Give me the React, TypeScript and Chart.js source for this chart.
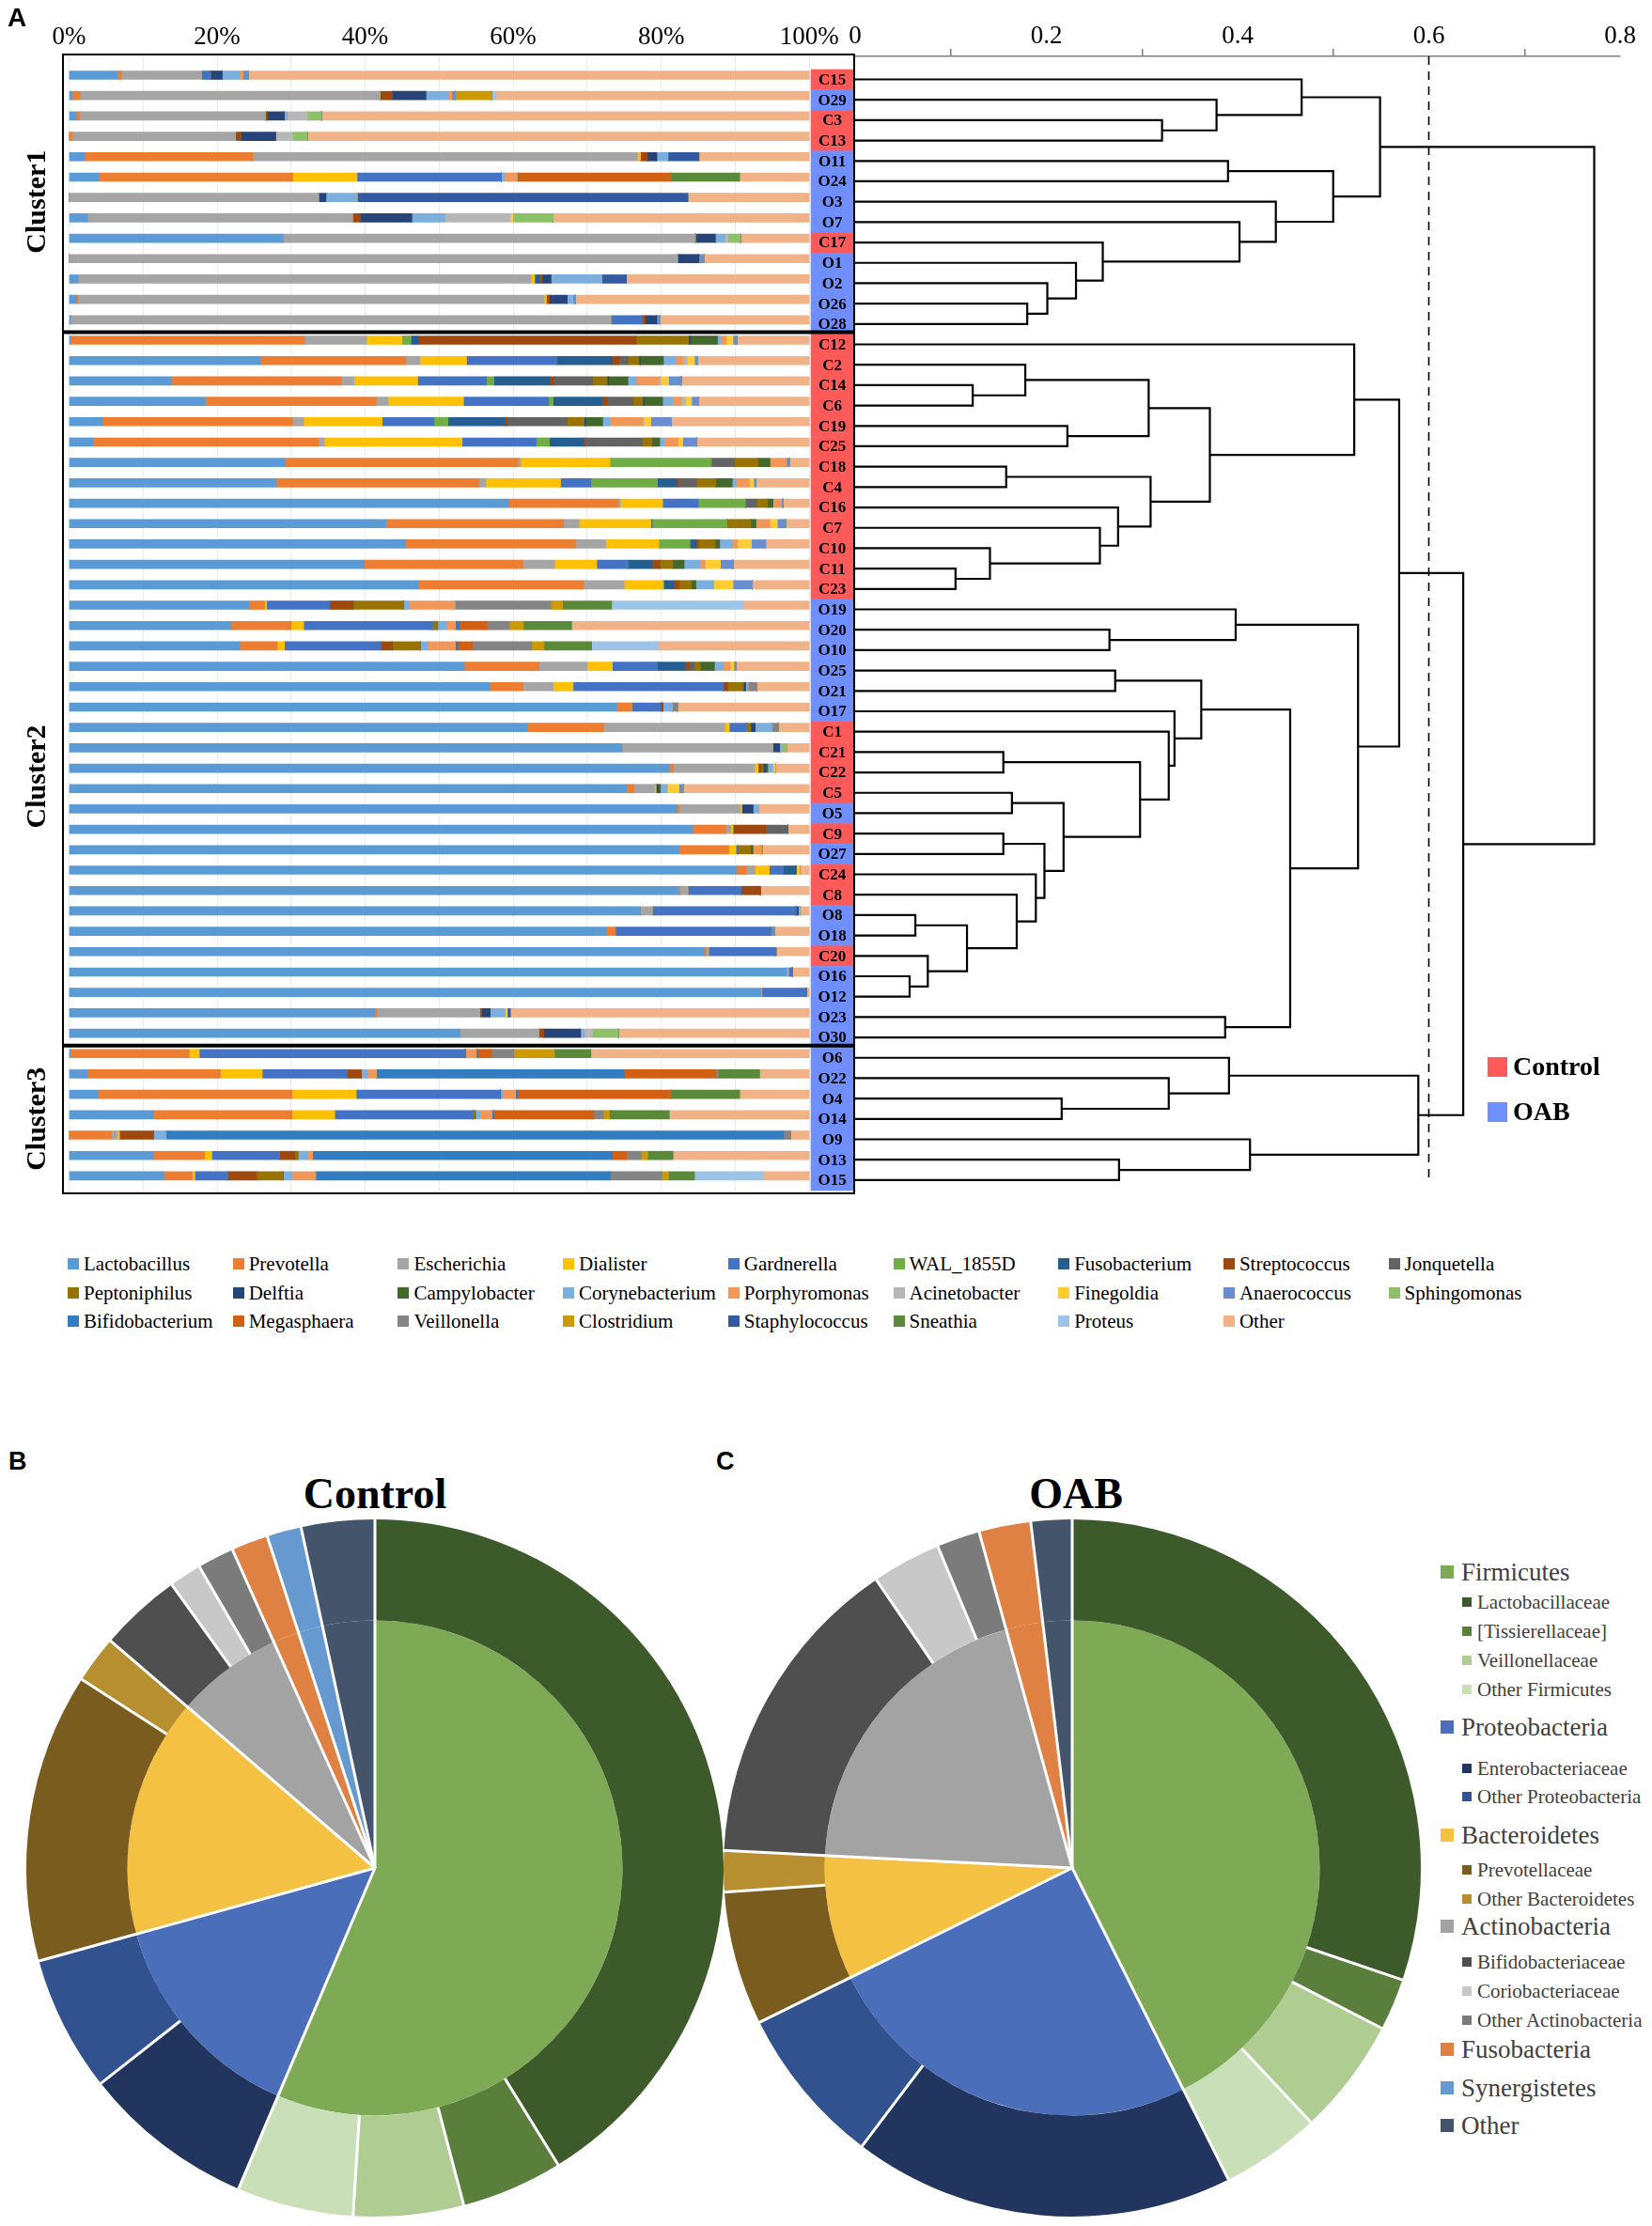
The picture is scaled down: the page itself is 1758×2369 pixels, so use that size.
import React, { useEffect, useRef } from 'react';
import { Chart, registerables } from 'chart.js';

Chart.register(...registerables);

const SERIF = '"Liberation Serif", "Times New Roman", serif';
const SANS = '"Liberation Sans", Arial, sans-serif';

// ---------------- Panel A : samples, clusters ----------------
const SAMPLES = [
  'C15', 'O29', 'C3', 'C13', 'O11', 'O24', 'O3', 'O7', 'C17', 'O1', 'O2', 'O26', 'O28',
  'C12', 'C2', 'C14', 'C6', 'C19', 'C25', 'C18', 'C4', 'C16', 'C7', 'C10', 'C11', 'C23',
  'O19', 'O20', 'O10', 'O25', 'O21', 'O17', 'C1', 'C21', 'C22', 'C5', 'O5', 'C9', 'O27', 'C24', 'C8', 'O8', 'O18', 'C20', 'O16', 'O12', 'O23', 'O30',
  'O6', 'O22', 'O4', 'O14', 'O9', 'O13', 'O15',
];
const CLUSTER_NAMES = ['Cluster1', 'Cluster2', 'Cluster3'];
const CLUSTER_SIZES = [13, 35, 7];

const GENERA = [
  'Lactobacillus', 'Prevotella', 'Escherichia', 'Dialister', 'Gardnerella', 'WAL_1855D', 'Fusobacterium', 'Streptococcus', 'Jonquetella',
  'Peptoniphilus', 'Delftia', 'Campylobacter', 'Corynebacterium', 'Porphyromonas', 'Acinetobacter', 'Finegoldia', 'Anaerococcus', 'Sphingomonas',
  'Bifidobacterium', 'Megasphaera', 'Veillonella', 'Clostridium', 'Staphylococcus', 'Sneathia', 'Proteus', 'Other',
];
const GENUS_COLORS = [
  '#5B9BD5', '#ED7D31', '#A5A5A5', '#FFC000', '#4472C4', '#70AD47', '#255E91', '#9E480E', '#636363',
  '#997300', '#264478', '#43682B', '#7CAFDD', '#F1975A', '#B7B7B7', '#FFCD33', '#698ED0', '#8CC168',
  '#327DC2', '#D26012', '#848484', '#CC9A00', '#335AA1', '#5A8A39', '#9DC3E6', '#F1B287',
];

// relative abundance (%) per genus, rows in SAMPLES order
const LACTOBACILLUS = [
  6.6, 0.4, 1.0, 0, 2.1, 4.0, 0, 2.5, 28.9, 0, 1.2, 1.0, 0.2,
  0.2, 25.8, 13.8, 18.4, 4.5, 3.3, 29.1, 28.0, 59.4, 42.8, 45.4, 39.9, 47.2,
  24.3, 21.9, 23.1, 53.4, 56.8, 74.0, 61.9, 74.7, 81.1, 75.3, 82.1, 84.3, 82.4, 90.2, 82.4, 77.2, 72.6, 85.8, 96.9, 93.4, 41.3, 52.8,
  0.2, 2.5, 3.9, 11.4, 0, 11.4, 12.8,
];
const PREVOTELLA = [
  0.5, 1.1, 0.4, 0.4, 22.7, 26.2, 0, 0, 0, 0, 0, 0.2, 0,
  31.6, 19.7, 23.0, 23.1, 25.7, 30.4, 31.6, 27.4, 14.8, 24.0, 23.0, 21.4, 22.3,
  2.1, 8.1, 5.0, 10.1, 4.5, 2.0, 10.3, 0, 0.5, 1.0, 0.3, 4.4, 6.7, 1.3, 0.2, 0, 1.2, 0.3, 0, 0, 0.3, 0,
  16.0, 17.9, 26.2, 18.7, 5.7, 6.9, 3.8,
];
const ESCHERICHIA = [
  10.8, 40.5, 25.1, 22.1, 52.0, 0, 33.7, 35.8, 55.7, 82.2, 61.2, 63.0, 73.0,
  8.4, 1.9, 1.7, 1.6, 1.5, 0.8, 0.3, 0.9, 0.3, 2.1, 4.1, 4.3, 5.5,
  0, 0, 0, 6.5, 4.1, 0, 16.4, 20.4, 11.0, 2.8, 8.3, 0.7, 0, 1.2, 1.0, 1.6, 0, 0.3, 0.3, 0.2, 13.9, 10.7,
  0, 0, 0, 0, 0.8, 0, 0,
];
const DIALISTER = [
  0, 0, 0, 0, 0.4, 8.7, 0, 0, 0, 0, 0.5, 0.3, 0,
  4.8, 6.3, 8.6, 10.2, 10.6, 18.6, 12.1, 10.1, 5.7, 9.7, 7.2, 5.7, 5.3,
  0.3, 1.7, 1.0, 3.4, 2.7, 0, 0.6, 0, 0.5, 0.2, 0.2, 0.3, 1.0, 1.9, 0, 0, 0, 0, 0, 0, 0, 0,
  1.4, 5.7, 8.7, 5.8, 0.3, 1.0, 0.4,
];
const GARDNERELLA = [
  1.2, 0, 0, 0, 0, 19.5, 0, 0, 0, 0, 0, 0, 4.2,
  0, 12.2, 9.3, 11.5, 7.0, 10.0, 0, 4.1, 4.8, 0.2, 0, 4.2, 0,
  8.5, 17.4, 13.0, 6.1, 20.3, 3.9, 2.3, 0, 0, 0, 0, 0, 0.3, 1.9, 7.2, 19.4, 21.0, 9.1, 0.5, 6.0, 0, 0,
  35.9, 11.5, 19.5, 18.7, 0, 9.1, 4.4,
];
const WAL_1855D = [
  0, 0, 0, 0, 0, 0, 0, 0, 0, 0, 0, 0, 0,
  1.2, 0, 1.0, 0.6, 1.9, 1.8, 13.7, 9.0, 6.4, 10.1, 4.2, 0, 0,
  0, 0, 0, 0, 0, 0, 0, 0, 0, 0, 0, 0, 0, 0, 0, 0, 0, 0, 0, 0, 0, 0,
  0, 0, 0, 0, 0, 0, 0,
];
const FUSOBACTERIUM = [
  0, 0, 0, 0, 0, 0, 0, 0, 0, 0, 0.7, 0, 0,
  1.0, 7.5, 7.6, 6.6, 7.7, 4.6, 0, 2.6, 0, 0, 0.8, 3.3, 1.4,
  0, 0, 0, 3.7, 0, 0, 0, 0, 0, 0, 0, 0, 0, 1.7, 0, 0, 0, 0, 0, 0, 0, 0,
  0, 0, 0, 0, 0, 0, 0,
];
const STREPTOCOCCUS = [
  0, 1.7, 0.3, 0.7, 0.9, 0, 0, 1.0, 0, 0, 0.3, 0.4, 0.4,
  29.4, 0.9, 0.5, 0.7, 0.3, 0.2, 0, 0.3, 0, 0, 0.3, 1.0, 0.7,
  3.2, 0, 1.6, 0.6, 0.6, 0.3, 0, 0, 0.4, 0, 0, 4.4, 0, 0, 2.6, 0, 0, 0, 0, 0, 0.2, 0.6,
  0, 1.9, 0, 0, 4.6, 2.1, 3.9,
];
const JONQUETELLA = [
  0, 0, 0, 0, 0, 0, 0, 0, 0, 0, 0, 0, 0,
  0, 1.2, 5.2, 3.5, 8.1, 7.7, 3.1, 2.4, 1.5, 0, 0, 0, 0,
  0, 0, 0, 0.7, 0, 0, 0, 0, 0, 0, 0, 3.0, 0, 0, 0, 0, 0, 0, 0, 0, 0, 0,
  0, 0, 0, 0, 0, 0, 0,
];
const PEPTONIPHILUS = [
  0, 0, 0, 0, 0, 0, 0, 0, 0, 0, 0, 0, 0,
  7.1, 1.5, 2.0, 1.3, 2.3, 1.4, 3.2, 2.6, 1.5, 3.2, 2.3, 1.8, 1.7,
  6.8, 0.7, 3.8, 0.8, 2.1, 0, 0.6, 0, 0.3, 0, 0, 0, 1.7, 0, 0, 0, 0, 0, 0, 0, 0, 0,
  0, 0, 0, 0.3, 0, 0.4, 3.6,
];
const DELFTIA = [
  1.6, 4.5, 2.3, 4.7, 1.3, 0, 1.0, 7.0, 2.7, 2.9, 1.2, 2.4, 1.6,
  0.3, 0.2, 0.2, 0.2, 0.2, 0, 0, 0, 0, 0, 0, 0, 0,
  0, 0, 0, 0, 0.3, 0, 0.6, 0.9, 0.3, 0.3, 1.5, 0, 0, 0, 0, 0.3, 0, 0, 0, 0, 1.2, 5.0,
  0, 0, 0, 0, 0, 0, 0,
];
const CAMPYLOBACTER = [
  0, 0, 0, 0, 0, 0, 0, 0, 0, 0, 0, 0, 0,
  3.6, 3.1, 2.6, 2.5, 2.3, 1.0, 1.6, 2.2, 0.7, 0.7, 0.6, 1.5, 0.6,
  0, 0, 0, 1.9, 0, 0, 0, 0, 0.3, 0.3, 0, 0, 0.3, 0, 0, 0, 0, 0, 0, 0, 0, 0,
  0, 0, 0, 0, 0, 0, 0,
];
const CORYNEBACTERIUM = [
  2.4, 3.1, 0.4, 0, 1.5, 0.4, 4.2, 4.5, 1.3, 0, 6.9, 0.7, 0,
  0.4, 1.7, 1.2, 1.4, 1.0, 0.6, 0, 0.5, 0, 0, 1.7, 2.1, 2.4,
  0.8, 1.2, 1.0, 1.2, 0.3, 1.3, 2.2, 0.3, 0.7, 0.9, 0.8, 0, 0, 0, 0, 0.3, 0, 0, 0, 0, 2.0, 0.5,
  0, 0.9, 0.3, 0.6, 1.7, 1.3, 1.2,
];
const PORPHYROMONAS = [
  0.4, 0.4, 0, 0, 0, 1.7, 0, 0, 0, 0, 0, 0, 0,
  0.8, 1.0, 3.0, 1.2, 4.4, 1.9, 2.2, 1.8, 1.1, 1.9, 0.7, 0.7, 0,
  6.1, 1.2, 3.7, 0.9, 0, 0, 0, 0, 0, 0, 0, 0, 1.0, 0, 0, 0, 0, 0, 0, 0, 0, 0,
  1.5, 1.1, 1.7, 1.6, 0, 0.7, 3.2,
];
const ACINETOBACTER = [
  0, 0, 2.7, 2.3, 0, 0, 0, 8.8, 0.4, 0, 0, 0, 0,
  0, 0.5, 0.3, 0.5, 0.2, 0, 0, 0, 0, 0, 0, 0, 0,
  0, 0, 0, 0, 0, 0, 0, 0, 0, 0, 0, 0, 0, 0, 0, 0, 0, 0, 0, 0, 0, 1.1,
  0, 0, 0, 0, 0, 0, 0,
];
const FINEGOLDIA = [
  0, 0, 0, 0, 0, 0, 0, 0.4, 0, 0, 0, 0, 0,
  0.9, 1.0, 1.0, 0.8, 0.9, 0.6, 0, 0.6, 0, 1.0, 1.9, 2.1, 2.6,
  0, 0, 0, 0.5, 0, 0, 0, 0, 0.3, 1.6, 0, 0, 0, 0.5, 0, 0, 0, 0, 0, 0, 0.3, 0,
  0, 0, 0, 0, 0, 0, 0,
];
const ANAEROCOCCUS = [
  0.7, 0.5, 0, 0, 0, 0, 0, 0, 0, 0.7, 0, 0.4, 0.4,
  0.5, 0.4, 1.7, 0.9, 2.8, 1.9, 0.4, 0.3, 0.3, 1.1, 1.9, 1.7, 2.6,
  0, 0, 0, 0.3, 0, 0, 0, 0, 0, 0.6, 0, 0, 0, 0, 0, 0, 0.5, 0, 0, 0, 0, 0,
  0, 0, 0, 0, 0, 0, 0,
];
const SPHINGOMONAS = [
  0, 0, 1.9, 2.0, 0, 0, 0, 5.4, 1.7, 0, 0, 0, 0,
  0, 0, 0, 0, 0, 0, 0, 0, 0, 0, 0, 0, 0,
  0, 0, 0, 0, 0, 0, 0, 0.6, 0, 0, 0, 0, 0, 0, 0, 0, 0, 0, 0, 0, 0, 3.5,
  0, 0, 0, 0, 0, 0, 0,
];
const BIFIDOBACTERIUM = [
  0, 0, 0, 0, 0, 0.2, 0, 0, 0, 0, 0, 0, 0,
  0, 0, 0, 0, 0, 0, 0, 0, 0, 0, 0, 0, 0,
  0, 0.6, 0.4, 0, 0, 0, 0, 0, 0, 0, 0, 0, 0, 0, 0, 0, 0, 0, 0, 0, 0, 0,
  0.2, 33.5, 0.3, 0.3, 83.4, 40.5, 39.8,
];
const MEGASPHAERA = [
  0, 0, 0, 0, 0, 20.6, 0, 0, 0, 0, 0, 0, 0,
  0, 0, 0, 0, 0, 0, 0, 0, 0, 0, 0, 0, 0,
  0, 3.7, 1.9, 0, 0, 0, 0, 0, 0, 0, 0, 0, 0, 0, 0, 0, 0, 0, 0, 0, 0, 0,
  1.9, 12.4, 20.7, 13.5, 0, 1.9, 0,
];
const VEILLONELLA = [
  0, 0, 0, 0, 0, 0, 0, 0, 0, 0, 0, 0, 0,
  0, 0, 0, 0, 0, 0, 0, 0, 0, 0, 0, 0, 0,
  13.0, 3.0, 8.0, 0, 1.2, 0.7, 0.9, 0, 0, 0, 0, 0, 0, 0, 0, 0, 0, 0, 0, 0, 0, 0,
  3.0, 0.3, 0, 1.3, 1.0, 2.0, 7.0,
];
const CLOSTRIDIUM = [
  0, 4.9, 0, 0, 0, 0, 0, 0, 0, 0, 0, 0, 0,
  0, 0, 0, 0, 0, 0, 0, 0, 0, 0, 0, 0, 0,
  1.6, 1.9, 1.7, 0, 0, 0, 0, 0, 0, 0, 0, 0, 0.3, 0, 0, 0, 0, 0, 0, 0, 0, 0,
  5.5, 0, 0, 0.8, 0, 0.9, 0.9,
];
const STAPHYLOCOCCUS = [
  0, 0, 0, 0, 4.2, 0, 44.7, 0, 0, 0, 3.3, 0, 0,
  0, 0, 0, 0, 0, 0, 0, 0, 0, 0, 0, 0, 0,
  0, 0, 0, 0, 0, 0, 0, 0, 0, 0, 0, 0, 0, 0, 0, 0, 0, 0, 0, 0, 0.4, 0,
  0, 0, 0, 0, 0, 0, 0,
];
const SNEATHIA = [
  0, 0, 0, 0, 0, 9.3, 0, 0, 0, 0, 0, 0, 0,
  0, 0, 0, 0, 0, 0, 0, 0, 0, 0, 0, 0, 0,
  6.6, 6.5, 6.4, 0, 0, 0, 0, 0, 0, 0, 0, 0, 0, 0, 0, 0, 0, 0, 0, 0, 0, 0,
  4.9, 5.6, 9.3, 8.1, 0, 3.4, 3.5,
];
const PROTEUS = [
  0, 0.6, 0, 0, 0, 0, 0, 0, 0, 0, 0, 0, 0,
  0, 0, 0, 0, 0, 0, 0, 0, 0, 0, 0, 0, 0,
  17.8, 0, 9.0, 0, 0, 0, 0, 0, 0, 0, 0, 0, 0, 0, 0, 0, 0, 0, 0, 0, 0, 0,
  0, 0, 0, 0, 0, 0, 9.3,
];
const OTHER_GENERA = [
  75.8, 42.3, 65.9, 67.8, 14.9, 9.4, 16.4, 34.6, 9.3, 14.2, 24.7, 31.6, 20.2,
  9.8, 15.1, 17.3, 15.0, 18.6, 15.2, 2.7, 7.2, 3.5, 3.2, 5.9, 10.3, 7.7,
  8.9, 32.1, 20.4, 9.9, 7.1, 17.8, 4.2, 3.1, 4.6, 17.0, 6.8, 2.9, 6.3, 1.3, 6.6, 1.2, 4.7, 4.5, 2.3, 0.4, 40.4, 25.8,
  29.5, 6.7, 9.4, 18.9, 2.5, 18.4, 6.2,
];
const SERIES = [
  LACTOBACILLUS, PREVOTELLA, ESCHERICHIA, DIALISTER, GARDNERELLA, WAL_1855D, FUSOBACTERIUM, STREPTOCOCCUS, JONQUETELLA,
  PEPTONIPHILUS, DELFTIA, CAMPYLOBACTER, CORYNEBACTERIUM, PORPHYROMONAS, ACINETOBACTER, FINEGOLDIA, ANAEROCOCCUS, SPHINGOMONAS,
  BIFIDOBACTERIUM, MEGASPHAERA, VEILLONELLA, CLOSTRIDIUM, STAPHYLOCOCCUS, SNEATHIA, PROTEUS, OTHER_GENERA,
];

// hierarchical clustering: [child A, child B, merge distance]; '#k' refers to merge k
const MERGES: [string, string, number][] = [
  ['C3', 'C13', 0.321], ['O29', '#0', 0.378], ['C15', '#1', 0.467], ['O11', 'O24', 0.390],
  ['O26', 'O28', 0.180], ['O2', '#4', 0.201], ['O1', '#5', 0.231], ['C17', '#6', 0.259],
  ['O7', '#7', 0.402], ['O3', '#8', 0.440], ['#3', '#9', 0.500], ['#2', '#10', 0.549],
  ['C14', 'C6', 0.123], ['C2', '#12', 0.178], ['C19', 'C25', 0.222], ['#13', '#14', 0.307],
  ['C18', 'C4', 0.158], ['C11', 'C23', 0.105], ['C10', '#17', 0.141], ['C7', '#18', 0.256],
  ['C16', '#19', 0.275], ['#16', '#20', 0.309], ['#15', '#21', 0.371], ['C12', '#22', 0.522],
  ['O20', 'O10', 0.266], ['O19', '#24', 0.398], ['O25', 'O21', 0.272], ['O16', 'O12', 0.057],
  ['C20', '#27', 0.076], ['O8', 'O18', 0.063], ['#29', '#28', 0.117], ['C8', '#30', 0.169],
  ['C24', '#31', 0.189], ['C9', 'O27', 0.155], ['#33', '#32', 0.198], ['C5', 'O5', 0.164],
  ['#35', '#34', 0.218], ['C21', 'C22', 0.155], ['#37', '#36', 0.298], ['C1', '#38', 0.328],
  ['O17', '#39', 0.334], ['#26', '#40', 0.362], ['O23', 'O30', 0.387], ['#41', '#42', 0.455],
  ['#25', '#43', 0.526], ['#23', '#44', 0.569],
  ['O4', 'O14', 0.216], ['O22', '#46', 0.328], ['O6', '#47', 0.391], ['O13', 'O15', 0.276],
  ['O9', '#49', 0.413], ['#48', '#50', 0.589], ['#45', '#51', 0.636], ['#11', '#52', 0.773],
];
const CUT_DISTANCE = 0.6;
const PCT_TICKS = [0, 10, 20, 30, 40, 50, 60, 70, 80, 90, 100];
const DIST_TICKS = [0, 0.2, 0.4, 0.6, 0.8];

// ---------------- Panels B / C ----------------
const PHYLA = ['Firmicutes', 'Proteobacteria', 'Bacteroidetes', 'Actinobacteria', 'Fusobacteria', 'Synergistetes', 'Other'];
const PHYLA_COLORS = ['#7EAA55', '#4A6EBA', '#F4C142', '#A3A3A3', '#DE8143', '#6699D0', '#44546A'];
const FAMILIES = [
  'Lactobacillaceae', '[Tissierellaceae]', 'Veillonellaceae', 'Other Firmicutes',
  'Enterobacteriaceae', 'Other Proteobacteria', 'Prevotellaceae', 'Other Bacteroidetes',
  'Bifidobacteriaceae', 'Coriobacteriaceae', 'Other Actinobacteria', 'Fusobacteria', 'Synergistetes', 'Other',
];
const FAMILY_PHYLUM = [0, 0, 0, 0, 1, 1, 2, 2, 3, 3, 3, 4, 5, 6];
const FAMILY_COLORS = [
  '#3D5A2A', '#5A7E3C', '#AFCC92', '#C9DFB8', '#22355F', '#32518F', '#7A5D1E', '#B78F30',
  '#4F4F4F', '#C8C8C8', '#7B7B7B', '#DE8143', '#6699D0', '#44546A',
];
const CONTROL_PHYLA = [56.4, 14.3, 15.6, 7.0, 1.7, 1.6, 3.4];
const CONTROL_FAMILIES = [41.2, 4.7, 5.1, 5.4, 8.0, 6.3, 13.4, 2.2, 3.8, 1.5, 1.7, 1.7, 1.6, 3.4];
const OAB_PHYLA = [42.6, 25.1, 8.1, 19.9, 2.4, 0, 1.9];
const OAB_FAMILIES = [30.2, 2.4, 5.4, 4.6, 17.7, 7.4, 6.2, 1.9, 14.7, 3.2, 2.0, 2.4, 0, 1.9];

// ---------------- layout (pixels) ----------------
const CONTROL_COLOR = '#FF5A5A';
const OAB_COLOR = '#6F8FFF';
const Y_MIN = -1.13;
const Y_MAX = 54.65;
const PCT_MIN = -0.95;
const PCT_MAX = 106.2;
const LABEL_FROM = 100.2;
const LABEL_TO = 106.0;
const CLUSTER_LABEL_ROW = [6, 34.2, 51];
const PIE_LEGEND_Y = [1673, 1705, 1736, 1767, 1798, 1838, 1882, 1912, 1953, 1990, 2021, 2050, 2088, 2119, 2150, 2181, 2222, 2262];

function dendrogramSegments() {
  const pos: Record<string, { y: number; h: number }> = {};
  SAMPLES.forEach((s, i) => { pos[s] = { y: i, h: 0 }; });
  const segs: { x: number; y: number }[][] = [];
  MERGES.forEach(([a, b, h], k) => {
    const A = pos[a];
    const B = pos[b];
    segs.push([{ x: A.h, y: A.y }, { x: h, y: A.y }, { x: h, y: B.y }, { x: B.h, y: B.y }]);
    pos['#' + k] = { y: (A.y + B.y) / 2, h };
  });
  return segs;
}

const panelAPlugin = {
  id: 'panelADecor',
  afterDatasetsDraw(chart: any) {
    const { ctx, chartArea } = chart;
    const x = chart.scales.x;
    const y = chart.scales.y;
    const rowH = Math.abs(y.getPixelForValue(1) - y.getPixelForValue(0));
    ctx.save();
    const x0 = x.getPixelForValue(LABEL_FROM);
    const x1 = x.getPixelForValue(LABEL_TO);
    SAMPLES.forEach((s, i) => {
      const cy = y.getPixelForValue(i);
      ctx.fillStyle = s.startsWith('C') ? CONTROL_COLOR : OAB_COLOR;
      ctx.fillRect(x0, cy - rowH / 2, x1 - x0, rowH + 0.6);
    });
    ctx.fillStyle = '#000';
    ctx.font = `bold 17px ${SERIF}`;
    ctx.textAlign = 'center';
    ctx.textBaseline = 'middle';
    SAMPLES.forEach((s, i) => {
      ctx.fillText(s, (x0 + x1) / 2, y.getPixelForValue(i) + 1);
    });
    // frame
    ctx.strokeStyle = '#000';
    ctx.lineWidth = 2;
    ctx.strokeRect(x.left + 1, chartArea.top - 2, x.right - x.left - 2, chartArea.bottom - chartArea.top + 2);
    // cluster separators
    ctx.lineWidth = 4;
    let acc = 0;
    CLUSTER_SIZES.slice(0, -1).forEach((n) => {
      acc += n;
      const yy = y.getPixelForValue(acc - 0.6);
      ctx.beginPath();
      ctx.moveTo(x.left, yy);
      ctx.lineTo(x.right, yy);
      ctx.stroke();
    });
    // cluster labels
    ctx.font = `bold 30px ${SERIF}`;
    CLUSTER_NAMES.forEach((name, c) => {
      ctx.save();
      ctx.translate(40, y.getPixelForValue(CLUSTER_LABEL_ROW[c]));
      ctx.rotate(-Math.PI / 2);
      ctx.fillText(name, 0, 0);
      ctx.restore();
    });
    ctx.restore();
  },
};

function panelAConfig(): any {
  const bars = GENERA.map((g, k) => ({
    type: 'bar',
    label: g,
    indexAxis: 'y',
    xAxisID: 'x',
    yAxisID: 'y',
    data: SERIES[k].map((v, i) => ({ x: v, y: i })),
    backgroundColor: GENUS_COLORS[k],
    borderWidth: 0,
    barThickness: 9,
  }));
  const tree = dendrogramSegments().map((seg) => ({
    type: 'line',
    data: seg,
    xAxisID: 'x2',
    yAxisID: 'y2',
    borderColor: '#000',
    borderWidth: 2.2,
    pointRadius: 0,
    fill: false,
    tension: 0,
  }));
  const cut = {
    type: 'line',
    data: [{ x: CUT_DISTANCE, y: Y_MIN }, { x: CUT_DISTANCE, y: SAMPLES.length - 1 }],
    xAxisID: 'x2',
    yAxisID: 'y2',
    borderColor: '#000',
    borderWidth: 1.6,
    borderDash: [9, 7],
    pointRadius: 0,
    fill: false,
  };
  const tickFont = { family: SERIF, size: 27 };
  return {
    type: 'bar',
    data: { datasets: [...bars, ...tree, cut] },
    options: {
      responsive: false,
      animation: false,
      events: [],
      layout: { padding: { left: 66, right: 34, top: 0, bottom: 30 } },
      plugins: { legend: { display: false }, tooltip: { enabled: false } },
      scales: {
        x: {
          type: 'linear', position: 'top', stack: 'top', stackWeight: 844, weight: 2, stacked: true,
          min: PCT_MIN, max: PCT_MAX, offset: false,
          afterBuildTicks: (s: any) => { s.ticks = PCT_TICKS.map((v) => ({ value: v })); },
          afterFit: (s: any) => { s.height = 60; },
          grid: { color: '#ebebeb', lineWidth: 1, drawTicks: false, offset: false },
          border: { display: false },
          ticks: {
            callback: (v: number) => (v % 20 === 0 ? v + '%' : ''),
            font: tickFont, color: '#000', padding: 4, maxRotation: 0, autoSkip: false,
          },
        },
        x2: {
          type: 'linear', position: 'top', stack: 'top', stackWeight: 814, weight: 1,
          min: 0, max: 0.8, offset: false,
          afterBuildTicks: (s: any) => { s.ticks = DIST_TICKS.map((v) => ({ value: v })); },
          afterFit: (s: any) => { s.height = 60; },
          grid: { drawOnChartArea: false, drawTicks: true, tickLength: 8, color: '#7f7f7f', lineWidth: 1.5 },
          border: { display: true, color: '#7f7f7f', width: 1.5 },
          ticks: { callback: (v: number) => String(v), font: tickFont, color: '#000', padding: -3, maxRotation: 0, autoSkip: false },
        },
        y: { type: 'linear', min: Y_MIN, max: Y_MAX, reverse: true, stacked: true, offset: false, grid: { offset: false }, display: false },
        y2: { type: 'linear', min: Y_MIN, max: Y_MAX, reverse: true, offset: false, display: false },
      },
    },
    plugins: [panelAPlugin],
  };
}

// white separators along the radial edges of every arc (no circular outline)
const pieSeparators = {
  id: 'pieSeparators',
  afterDatasetsDraw(chart: any) {
    const { ctx } = chart;
    ctx.save();
    ctx.strokeStyle = '#ffffff';
    ctx.lineWidth = 3;
    ctx.lineCap = 'butt';
    chart.data.datasets.forEach((_: any, di: number) => {
      const meta = chart.getDatasetMeta(di);
      meta.data.forEach((arc: any) => {
        const p = arc.getProps(['x', 'y', 'startAngle', 'endAngle', 'innerRadius', 'outerRadius']);
        if (!(p.endAngle - p.startAngle > 0)) return;
        const c = Math.cos(p.startAngle);
        const s = Math.sin(p.startAngle);
        ctx.beginPath();
        ctx.moveTo(p.x + c * p.innerRadius, p.y + s * p.innerRadius);
        ctx.lineTo(p.x + c * (p.outerRadius + 1), p.y + s * (p.outerRadius + 1));
        ctx.stroke();
      });
    });
    ctx.restore();
  },
};

function pieConfig(phyla: number[], families: number[]): any {
  return {
    type: 'pie',
    data: {
      labels: FAMILIES,
      datasets: [
        { data: families, backgroundColor: FAMILY_COLORS, borderWidth: 0, weight: 29 },
        { data: phyla, backgroundColor: PHYLA_COLORS, borderWidth: 0, weight: 71 },
      ],
    },
    options: {
      responsive: false,
      animation: false,
      events: [],
      layout: { padding: 9 },
      plugins: { legend: { display: false }, tooltip: { enabled: false } },
    },
    plugins: [pieSeparators],
  };
}

function ChartCanvas({ make, left, top, width, height }: { make: () => any; left: number; top: number; width: number; height: number }) {
  const ref = useRef<HTMLCanvasElement>(null);
  useEffect(() => {
    const chart = new Chart(ref.current as HTMLCanvasElement, make());
    return () => chart.destroy();
  }, []);
  return (
    <canvas
      ref={ref}
      width={width}
      height={height}
      style={{ position: 'absolute', left, top, width, height }}
    />
  );
}

const abs = (left: number, top: number, extra: any = {}) => ({ position: 'absolute' as const, left, top, ...extra });

export default function App() {
  // pie legend entries: each phylum, followed by its families when it has several
  const pieLegend: { label: string; color: string; level: number }[] = [];
  PHYLA.forEach((p, pi) => {
    pieLegend.push({ label: p, color: PHYLA_COLORS[pi], level: 0 });
    const fams = FAMILIES.map((f, fi) => fi).filter((fi) => FAMILY_PHYLUM[fi] === pi);
    if (fams.length > 1) fams.forEach((fi) => pieLegend.push({ label: FAMILIES[fi], color: FAMILY_COLORS[fi], level: 1 }));
  });

  return (
    <div style={{ position: 'absolute', left: 0, top: 0, width: 1758, height: 2369, background: '#fff', fontFamily: SERIF, overflow: 'hidden' }}>
      <ChartCanvas make={panelAConfig} left={0} top={0} width={1758} height={1300} />

      <div style={abs(8, 5, { fontFamily: SANS, fontWeight: 700, fontSize: 28, lineHeight: '28px' })}>A</div>
      <div style={abs(9, 1542, { fontFamily: SANS, fontWeight: 700, fontSize: 27, lineHeight: '27px' })}>B</div>
      <div style={abs(762, 1542, { fontFamily: SANS, fontWeight: 700, fontSize: 27, lineHeight: '27px' })}>C</div>

      {/* group legend */}
      {[{ t: 'Control', c: CONTROL_COLOR, y: 1135 }, { t: 'OAB', c: OAB_COLOR, y: 1183 }].map((g) => (
        <div key={g.t} style={abs(1583, g.y - 14, { display: 'flex', alignItems: 'center', height: 28 })}>
          <div style={{ width: 21, height: 21, background: g.c }} />
          <div style={{ marginLeft: 6, fontWeight: 700, fontSize: 28, lineHeight: '28px', color: '#000' }}>{g.t}</div>
        </div>
      ))}

      {/* genus legend */}
      {GENERA.map((g, k) => (
        <div key={g} style={abs(72 + (k % 9) * 175.7, 1345 + Math.floor(k / 9) * 30.5 - 12, { display: 'flex', alignItems: 'center', height: 24 })}>
          <div style={{ width: 12, height: 12, background: GENUS_COLORS[k] }} />
          <div style={{ marginLeft: 5, fontSize: 21, lineHeight: '24px', color: '#000', whiteSpace: 'nowrap' }}>{g}</div>
        </div>
      ))}

      {/* pies */}
      <div style={abs(199, 1567, { width: 400, textAlign: 'center', fontWeight: 700, fontSize: 46, lineHeight: '46px' })}>Control</div>
      <div style={abs(945, 1567, { width: 400, textAlign: 'center', fontWeight: 700, fontSize: 46, lineHeight: '46px' })}>OAB</div>
      <ChartCanvas make={() => pieConfig(CONTROL_PHYLA, CONTROL_FAMILIES)} left={19} top={1608} width={760} height={760} />
      <ChartCanvas make={() => pieConfig(OAB_PHYLA, OAB_FAMILIES)} left={761} top={1608} width={760} height={760} />

      {pieLegend.map((e, i) => {
        const big = e.level === 0;
        const size = big ? 27 : 21;
        return (
          <div key={e.label + i} style={abs(big ? 1533 : 1556, PIE_LEGEND_Y[i] - size / 2, { display: 'flex', alignItems: 'center', height: size })}>
            <div style={{ width: big ? 14 : 10, height: big ? 14 : 10, background: e.color }} />
            <div style={{ marginLeft: big ? 8 : 6, fontSize: size, lineHeight: `${size}px`, color: '#404040', whiteSpace: 'nowrap' }}>{e.label}</div>
          </div>
        );
      })}
    </div>
  );
}
